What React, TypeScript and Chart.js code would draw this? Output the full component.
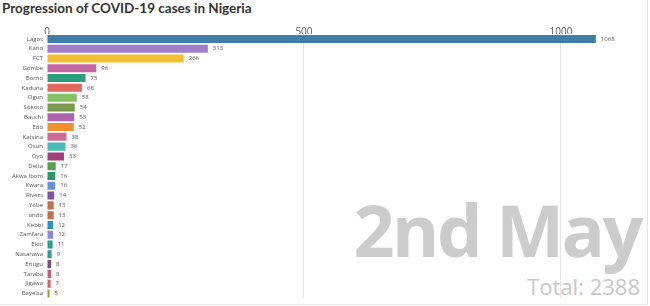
import React, { useEffect, useRef } from "react";
import { Chart, registerables } from "chart.js";

Chart.register(...registerables);

const states = ["Lagos","Kano","FCT","Gombe","Borno","Kaduna","Ogun","Sokoto","Bauchi","Edo","Katsina","Osun","Oyo","Delta","Akwa Ibom","Kwara","Rivers","Yobe","ondo","Kebbi","Zamfara","Ekiti","Nasarawa","Enugu","Taraba","Jigawa","Bayelsa"];
const cases = [1068,313,266,96,75,68,58,54,53,52,38,36,33,17,16,16,14,13,13,12,12,11,9,8,8,7,5];
const barColors = ["#3e7ea8","#a07ec8","#f3bd30","#c266a2","#2a9d7e","#e0685c","#86c264","#7a9a4c","#aa63aa","#ef902c","#cf6c96","#4cb8b8","#a2407c","#5a9e50","#2e9668","#6a90da","#7658a8","#c4704e","#c4704e","#2e90c6","#9484d8","#2a9c8c","#28a298","#7a4e8c","#d05c7c","#d8625e","#9c9a3c"];
const xTicks = [0, 500, 1000];
const dateLabel = "2nd May";
const totalLabel = "Total: 2388";
const title = "Progression of COVID-19 cases in Nigeria";

const valueLabels = {
  id: "valueLabels",
  afterDatasetsDraw(chart: any) {
    const ctx = chart.ctx;
    const meta = chart.getDatasetMeta(0);
    ctx.save();
    ctx.font = "6px 'Open Sans', sans-serif";
    ctx.fillStyle = "#555";
    ctx.textBaseline = "middle";
    ctx.textAlign = "left";
    meta.data.forEach((bar: any, i: number) => {
      ctx.fillText(String(cases[i]), bar.x + 5, bar.y);
    });
    ctx.restore();
  },
};

export default function App() {
  const ref = useRef<HTMLCanvasElement>(null);
  useEffect(() => {
    document.body.style.margin = "0";
    const chart = new Chart(ref.current!, {
      type: "bar",
      data: {
        labels: states,
        datasets: [{ data: cases, backgroundColor: barColors, borderWidth: 0, categoryPercentage: 1, barPercentage: 0.82 }],
      },
      options: {
        animation: false,
        responsive: false,
        indexAxis: "y",
        layout: { padding: { left: 0, right: 12, top: 0, bottom: 7 } },
        plugins: { legend: { display: false }, tooltip: { enabled: false }, title: { display: false } },
        scales: {
          x: {
            position: "top",
            min: 0,
            max: 1150,
            afterBuildTicks: (s: any) => { s.ticks = xTicks.map((v) => ({ value: v })); },
            afterFit: (s: any) => { s.height = 34; },
            ticks: { font: { size: 10, family: "'Open Sans', sans-serif" }, color: "#555", padding: -4, maxRotation: 0, callback: (v: any) => String(v) },
            grid: { drawTicks: false, color: (c: any) => (c.tick && c.tick.value === 0 ? "rgba(0,0,0,0)" : "#e4e4e4") },
            border: { display: false },
          },
          y: {
            afterFit: (s: any) => { s.width = 47; },
            ticks: { font: { size: 6, family: "'Open Sans', sans-serif" }, color: "#555", padding: 4, autoSkip: false },
            grid: { display: false, drawTicks: false },
            border: { display: false },
          },
        },
      },
      plugins: [valueLabels],
    });
    return () => chart.destroy();
  }, []);
  return (
    <div style={{ position: "relative", width: 650, height: 306, overflow: "hidden", background: "#fff" }}>
      <div style={{ position: "absolute", left: 0, top: 0, width: 647, height: 304, borderRight: "1px solid #e8e8e8", borderBottom: "1px solid #e8e8e8" }} />
      <div style={{ position: "absolute", left: 2, top: 0, fontFamily: "Lato, sans-serif", fontWeight: 700, fontSize: 13.5, color: "#333", whiteSpace: "nowrap" }}>{title}</div>
      <div style={{ position: "absolute", right: 9, top: 184, fontFamily: "'Open Sans', sans-serif", fontWeight: 700, fontSize: 72, lineHeight: "90px", color: "#cccccc", whiteSpace: "nowrap", letterSpacing: -2.5 }}>{dateLabel}</div>
      <div style={{ position: "absolute", right: 10, top: 271, fontFamily: "'Open Sans', sans-serif", fontWeight: 400, fontSize: 22, lineHeight: "30px", color: "#c8c8c8", whiteSpace: "nowrap" }}>{totalLabel}</div>
      <canvas ref={ref} width={650} height={306} style={{ position: "absolute", left: 0, top: 0 }} />
    </div>
  );
}
